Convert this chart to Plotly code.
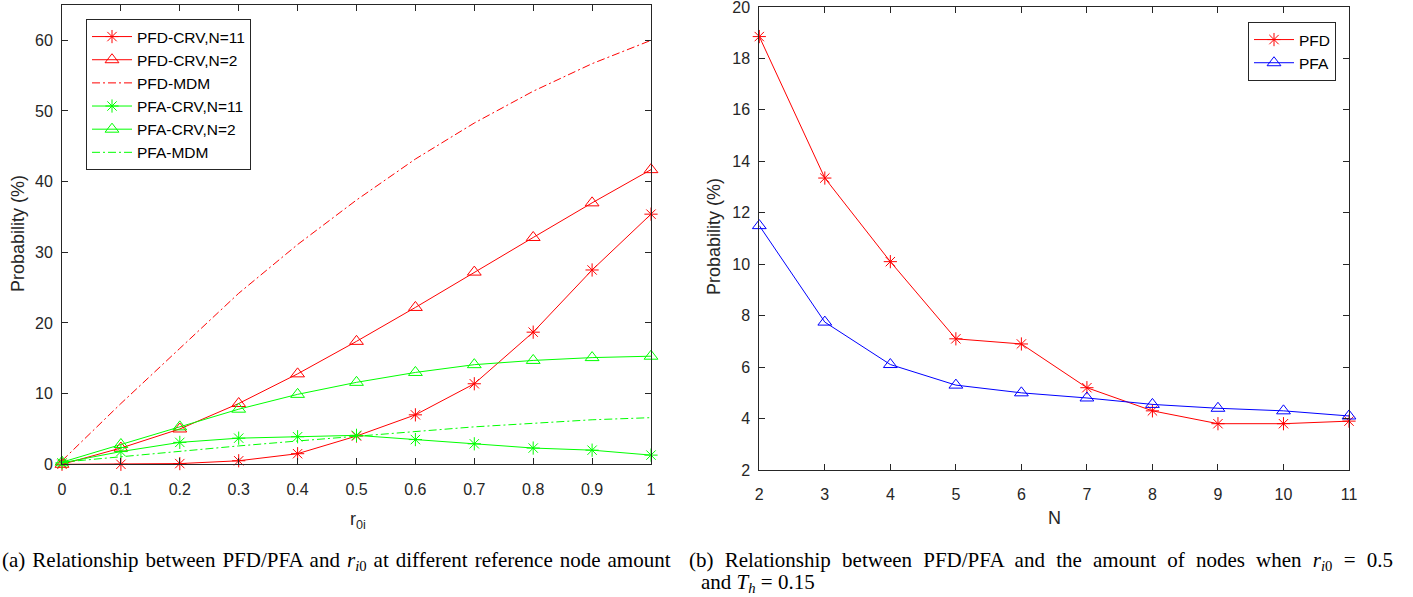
import plotly.graph_objects as go

# ---------------- data ----------------
r0i = [0.0, 0.1, 0.2, 0.3, 0.4, 0.5, 0.6, 0.7, 0.8, 0.9, 1.0]
r_ticks = ["0", "0.1", "0.2", "0.3", "0.4", "0.5", "0.6", "0.7", "0.8", "0.9", "1"]
pfd_crv_n11 = [0.0, 0.0, 0.1, 0.5, 1.5, 4.0, 7.0, 11.4, 18.7, 27.5, 35.4]
pfd_crv_n2 = [0.0, 2.3, 5.0, 8.6, 12.8, 17.4, 22.2, 27.2, 32.1, 37.0, 41.7]
pfd_mdm = [0.5, 8.6, 16.4, 24.2, 31.1, 37.4, 43.2, 48.3, 52.8, 56.7, 60.0]
pfa_crv_n11 = [0.2, 1.8, 3.1, 3.7, 3.9, 4.1, 3.5, 2.9, 2.3, 2.0, 1.3]
pfa_crv_n2 = [0.3, 2.8, 5.3, 7.8, 9.9, 11.6, 13.0, 14.1, 14.7, 15.1, 15.3]
pfa_mdm = [0.3, 1.1, 1.9, 2.6, 3.3, 4.0, 4.7, 5.3, 5.8, 6.3, 6.6]
prob_ticks_left = [0, 10, 20, 30, 40, 50, 60]

nodes = [2, 3, 4, 5, 6, 7, 8, 9, 10, 11]
pfd_n = [18.85, 13.35, 10.1, 7.1, 6.9, 5.2, 4.3, 3.8, 3.8, 3.9]
pfa_n = [11.5, 7.75, 6.1, 5.3, 5.0, 4.8, 4.55, 4.4, 4.3, 4.1]
prob_ticks_right = [2, 4, 6, 8, 10, 12, 14, 16, 18, 20]

RED = "#ff0000"
GREEN = "#00ff00"
BLUE = "#0000ff"
AX = "#262626"
DASHDOT = "8px,3px,2px,3px"

fig = go.Figure()


def add(x, y, name, color, symbol=None, dash="solid", xa="x", ya="y", legend="legend"):
    mode = "lines+markers" if symbol else "lines"
    kw = dict(
        x=x, y=y, name=name, mode=mode, xaxis=xa, yaxis=ya, legend=legend,
        line=dict(color=color, width=1, dash=dash), cliponaxis=False,
    )
    if symbol:
        size = 12 if symbol.startswith("triangle") else 11
        kw["marker"] = dict(symbol=symbol, size=size, color=color,
                            line=dict(color=color, width=1))
    fig.add_trace(go.Scatter(**kw))


add(r0i, pfd_crv_n11, "PFD-CRV,N=11", RED, "asterisk-open")
add(r0i, pfd_crv_n2, "PFD-CRV,N=2", RED, "triangle-up-open")
add(r0i, pfd_mdm, "PFD-MDM", RED, None, DASHDOT)
add(r0i, pfa_crv_n11, "PFA-CRV,N=11", GREEN, "asterisk-open")
add(r0i, pfa_crv_n2, "PFA-CRV,N=2", GREEN, "triangle-up-open")
add(r0i, pfa_mdm, "PFA-MDM", GREEN, None, DASHDOT)

add(nodes, pfd_n, "PFD", RED, "asterisk-open", xa="x2", ya="y2", legend="legend2")
add(nodes, pfa_n, "PFA", BLUE, "triangle-up-open", xa="x2", ya="y2", legend="legend2")

W, H = 1413, 597


def px_x(p):
    return p / W


def px_y(p):
    return 1 - p / H


axis_common = dict(
    showline=True, linecolor=AX, linewidth=1, mirror="ticks",
    ticks="inside", ticklen=6, tickcolor=AX, tickwidth=1,
    showgrid=False, zeroline=False, automargin=False, ticklabeloverflow="allow",
    tickfont=dict(family="Liberation Sans", size=16, color=AX),
)

fig.update_layout(
    width=W, height=H,
    margin=dict(l=0, r=0, t=0, b=0, autoexpand=False),
    paper_bgcolor="white", plot_bgcolor="white",
    font=dict(family="Liberation Sans", size=16, color="#000000"),
    xaxis=dict(domain=[px_x(62), px_x(651)], range=[0, 1], tickmode="array",
               tickvals=r0i, ticktext=r_ticks,
               anchor="y", ticklabelstandoff=10, **axis_common),
    yaxis=dict(domain=[px_y(464.3), px_y(5)], range=[0, 65], tickmode="array",
               tickvals=prob_ticks_left, ticktext=[str(v) for v in prob_ticks_left],
               anchor="x", ticklabelstandoff=5, **axis_common),
    xaxis2=dict(domain=[px_x(759.3), px_x(1349)], range=[2, 11], tickmode="array",
                tickvals=nodes, ticktext=[str(v) for v in nodes], anchor="y2",
                ticklabelstandoff=10, **axis_common),
    yaxis2=dict(domain=[px_y(470), px_y(7)], range=[2, 20], tickmode="array",
                tickvals=prob_ticks_right, ticktext=[str(v) for v in prob_ticks_right],
                anchor="x2", ticklabelstandoff=5, **axis_common),
    legend=dict(x=px_x(86), y=px_y(19), xanchor="left", yanchor="top",
                bordercolor=AX, borderwidth=1, bgcolor="white",
                font=dict(family="Liberation Sans", size=15.5, color="#000000"),
                itemwidth=40, tracegroupgap=0),
    legend2=dict(x=px_x(1336), y=px_y(22), xanchor="right", yanchor="top",
                 bordercolor=AX, borderwidth=1, bgcolor="white",
                 font=dict(family="Liberation Sans", size=15.5, color="#000000"),
                 itemwidth=40, tracegroupgap=0),
    showlegend=True,
)

ann_font = dict(family="Liberation Sans", size=18, color=AX)
cap_font = dict(family="Liberation Serif", size=21, color="#000000")
RI0 = "<i>r</i><sub><i>i</i>0</sub>"
cap_a_words = ["(a)", "Relationship", "between", "PFD/PFA", "and", RI0, "at",
               "different", "reference", "node", "amount"]
cap_b_words = ["(b)", "Relationship", "between", "PFD/PFA", "and", "the", "amount",
               "of", "nodes", "when", RI0, "=", "0.5"]
cap_a = (" \u200a").join(cap_a_words)
cap_b = (" \u2009\u200a").join(cap_b_words)
annotations = [
    dict(text="Probability (%)", x=px_x(18), y=px_y(234), textangle=-90, font=ann_font),
    dict(text="Probability (%)", x=px_x(714), y=px_y(237), textangle=-90, font=ann_font),
    dict(text="r<sub>0i</sub>", x=px_x(358), y=px_y(520), font=ann_font),
    dict(text="N", x=px_x(1054), y=px_y(518), font=ann_font),
    dict(text=cap_a, x=0, y=px_y(561), xanchor="left", font=cap_font),
    dict(text=cap_b, x=px_x(687), y=px_y(561), xanchor="left", font=cap_font),
    dict(text="and <i>T</i><sub><i>h</i></sub> = 0.15",
         x=px_x(758), y=px_y(583), xanchor="center", font=cap_font),
]
for a in annotations:
    a.setdefault("xref", "paper")
    a.setdefault("yref", "paper")
    a.setdefault("showarrow", False)
    a.setdefault("xanchor", "center")
    a.setdefault("yanchor", "middle")
fig.update_layout(annotations=annotations)

fig.write_html("out.html")
